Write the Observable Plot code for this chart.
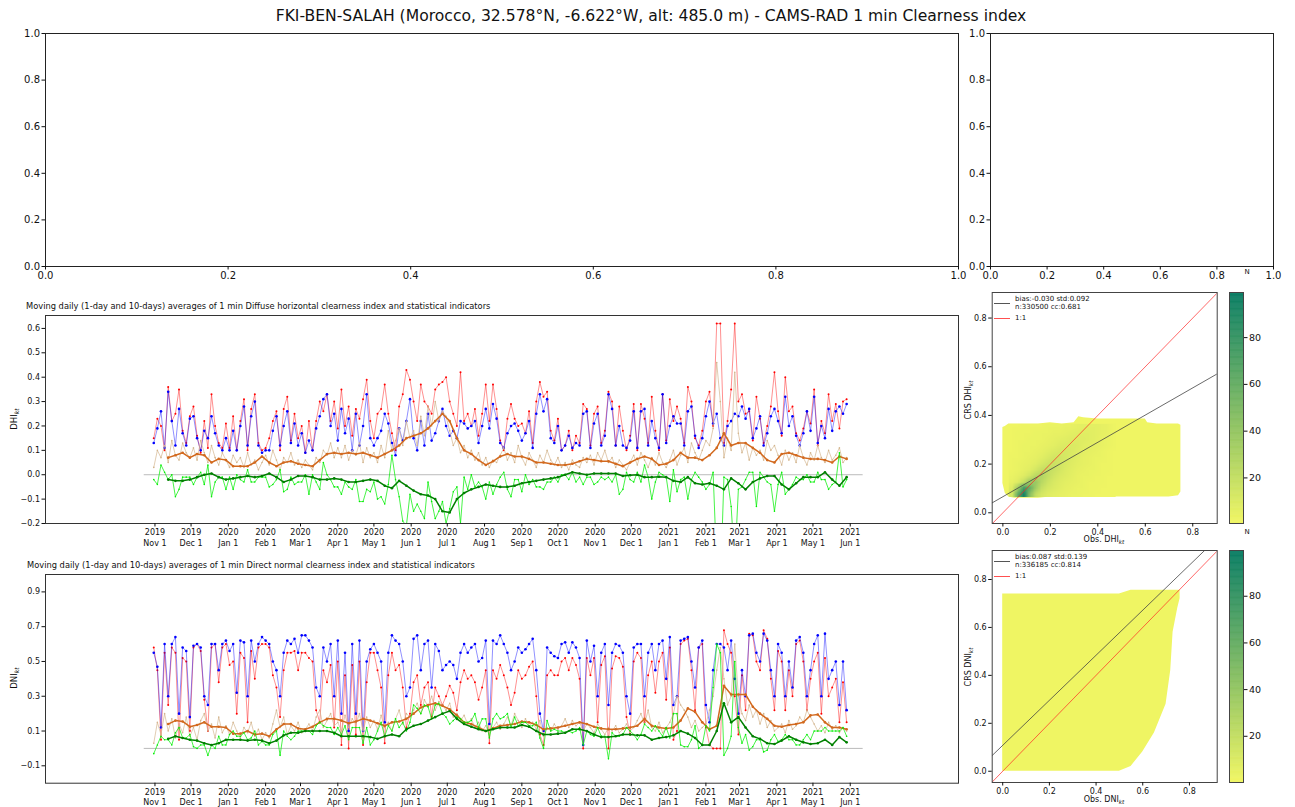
<!DOCTYPE html>
<html>
<head>
<meta charset="utf-8">
<script src="https://cdn.jsdelivr.net/npm/d3@7"></script>
<script src="https://cdn.jsdelivr.net/npm/@observablehq/plot@0.6"></script>
<style>
body{margin:0;background:#fff;}
#root{position:relative;width:1295px;height:807px;overflow:hidden;font-family:"DejaVu Sans",sans-serif;color:#111;background:#fff;}
.abs{position:absolute;white-space:nowrap;line-height:1;}
.rot{transform:translate(-50%,-50%) rotate(-90deg);}
.ctr{transform:translate(-50%,-50%);}
.lft{transform:translate(0,-50%);}
sub{font-style:italic;font-size:72%;vertical-align:-0.3em;line-height:0;}
.sw{position:absolute;height:0;border-top:1px solid;}
</style>
</head>
<body>
<div id="root"></div>
<script>
// ---------------- DATA ----------------
const mainTitle = "FKI-BEN-SALAH (Morocco, 32.578°N, -6.622°W, alt: 485.0 m) - CAMS-RAD 1 min Clearness index";
const dhiTitle = "Moving daily (1-day and 10-days) averages of 1 min Diffuse horizontal clearness index and statistical indicators";
const dniTitle = "Moving daily (1-day and 10-days) averages of 1 min Direct normal clearness index and statistical indicators";

const dailyStart = "2019-10-31", dailyStep = 3;     // 1-day values, read every 3rd day
const smoothStart = "2019-11-12", smoothStep = 6;   // 10-day values, read every 6th day
const monthTicks = ["2019-11-01","2019-12-01","2020-01-01","2020-02-01","2020-03-01","2020-04-01","2020-05-01","2020-06-01","2020-07-01","2020-08-01","2020-09-01","2020-10-01","2020-11-01","2020-12-01","2021-01-01","2021-02-01","2021-03-01","2021-04-01","2021-05-01","2021-06-01"];
const zeroSpan = ["2019-10-23","2021-06-11"];
const timeDomain = ["2019-08-02","2021-08-30"];
const topTicks = [0, 0.2, 0.4, 0.6, 0.8, 1.0];
const dhiYTicks = [-0.2,-0.1,0,0.1,0.2,0.3,0.4,0.5,0.6];
const dniYTicks = [-0.1,0.1,0.3,0.5,0.7,0.9];
const scatterTicks = [0, 0.2, 0.4, 0.6, 0.8];
const cbarTicks = [20, 40, 60, 80];

// DHI 1-day: observed, CAMS model, std, bias
const dhiObs = [0.15,0.23,0.20,0.10,0.36,0.22,0.25,0.35,0.18,0.13,0.24,
0.28,0.16,0.09,0.22,0.11,0.33,0.20,0.13,0.11,0.21,
0.11,0.24,0.10,0.22,0.31,0.10,0.27,0.33,0.13,0.10,
0.11,0.15,0.22,0.26,0.10,0.27,0.32,0.14,0.25,0.15,
0.20,0.09,0.22,0.10,0.22,0.30,0.26,0.33,0.22,0.30,
0.19,0.35,0.20,0.28,0.16,0.27,0.23,0.31,0.39,0.22,
0.15,0.25,0.27,0.37,0.25,0.17,0.10,0.28,0.33,0.43,0.39,
0.30,0.22,0.37,0.30,0.28,0.25,0.35,0.37,0.38,0.40,
0.30,0.25,0.20,0.42,0.22,0.25,0.20,0.27,0.16,0.25,
0.37,0.22,0.37,0.27,0.14,0.10,0.23,0.29,0.23,0.20,
0.21,0.17,0.26,0.13,0.30,0.38,0.32,0.34,0.18,0.14,
0.23,0.10,0.12,0.18,0.10,0.16,0.13,0.29,0.27,0.12,
0.25,0.28,0.13,0.18,0.34,0.30,0.12,0.28,0.18,0.10,
0.16,0.29,0.10,0.29,0.23,0.13,
0.32,0.18,0.10,0.33,0.14,
0.31,0.22,0.28,0.23,0.13,0.36,0.30,0.15,0.12,0.18,
0.30,0.34,0.20,0.62,0.62,0.13,0.22,0.35,0.62,0.30,
0.33,0.25,0.26,0.14,0.32,0.23,0.13,0.20,0.28,0.42,
0.26,0.16,0.40,0.26,0.28,0.17,0.14,0.19,0.26,0.21,
0.35,0.12,0.22,0.17,0.33,0.22,0.29,0.19,0.30,0.31];
const dhiMod = [0.13,0.19,0.26,0.11,0.34,0.22,0.12,0.27,0.17,0.12,0.23,
0.24,0.15,0.10,0.18,0.15,0.24,0.17,0.12,0.10,0.15,
0.10,0.18,0.10,0.20,0.28,0.12,0.24,0.30,0.12,0.09,
0.10,0.10,0.18,0.24,0.12,0.20,0.26,0.13,0.21,0.12,
0.17,0.09,0.14,0.10,0.19,0.24,0.31,0.33,0.20,0.25,
0.14,0.27,0.17,0.23,0.10,0.25,0.12,0.20,0.33,0.15,
0.12,0.15,0.18,0.25,0.21,0.13,0.08,0.19,0.14,0.22,0.31,
0.15,0.10,0.22,0.12,0.25,0.14,0.17,0.22,0.27,0.20,
0.16,0.18,0.15,0.22,0.21,0.19,0.20,0.22,0.13,0.20,
0.27,0.19,0.29,0.23,0.13,0.11,0.17,0.20,0.21,0.18,
0.14,0.17,0.22,0.11,0.25,0.33,0.26,0.31,0.15,0.13,
0.20,0.10,0.12,0.16,0.11,0.13,0.12,0.25,0.26,0.11,
0.21,0.25,0.12,0.16,0.33,0.27,0.12,0.20,0.12,0.11,
0.14,0.26,0.11,0.26,0.27,0.12,
0.22,0.15,0.11,0.33,0.13,
0.20,0.24,0.21,0.21,0.12,0.26,0.28,0.16,0.11,0.15,
0.24,0.30,0.21,0.25,0.15,0.12,0.20,0.22,0.25,0.24,
0.28,0.23,0.27,0.15,0.19,0.24,0.12,0.17,0.24,0.27,
0.22,0.17,0.32,0.20,0.24,0.16,0.12,0.17,0.26,0.18,
0.32,0.13,0.20,0.15,0.27,0.18,0.26,0.28,0.25,0.29];
const dhiStd1 = [0.03,0.10,0.07,0.12,0.05,0.14,0.08,0.06,0.13,0.09,0.07,
0.11,0.06,0.14,0.09,0.05,0.12,0.07,0.04,0.09,0.06,
0.03,0.08,0.05,0.07,0.03,0.09,0.04,0.06,0.02,0.05,
0.08,0.04,0.10,0.06,0.02,0.07,0.05,0.09,0.04,0.06,
0.03,0.06,0.04,0.02,0.07,0.05,0.10,0.08,0.13,0.07,
0.11,0.07,0.12,0.06,0.10,0.08,0.13,0.05,0.11,0.07,
0.09,0.05,0.12,0.07,0.18,0.10,0.14,0.19,0.12,0.22,0.15,
0.18,0.12,0.24,0.16,0.28,0.20,0.30,0.22,0.26,0.24,
0.18,0.12,0.15,0.09,0.12,0.07,0.10,0.06,0.09,0.04,
0.07,0.03,0.06,0.05,0.08,0.11,0.06,0.09,0.05,0.12,
0.07,0.04,0.09,0.06,0.03,0.08,0.05,0.10,0.06,0.04,
0.07,0.03,0.05,0.02,0.06,0.04,0.03,0.07,0.05,0.08,
0.04,0.09,0.06,0.10,0.05,0.07,0.03,0.06,0.04,0.02,
0.05,0.08,0.04,0.09,0.06,0.03,
0.07,0.04,0.09,0.05,0.03,
0.06,0.10,0.04,0.08,0.11,0.05,0.13,0.09,0.06,0.10,
0.14,0.12,0.19,0.46,0.30,0.07,0.15,0.10,0.42,0.17,
0.09,0.13,0.06,0.11,0.08,0.10,0.06,0.14,0.10,0.12,
0.08,0.04,0.10,0.06,0.09,0.05,0.12,0.07,0.04,0.09,
0.06,0.12,0.07,0.05,0.10,0.06,0.08,0.11,0.05,0.07];
const dhiBias1 = [-0.02,-0.04,0.04,0.01,-0.02,0.00,-0.09,-0.06,-0.01,-0.01,-0.01,
-0.04,-0.01,0.01,-0.04,0.04,-0.09,-0.03,-0.01,-0.01,-0.06,
-0.01,-0.06,0.00,-0.02,-0.03,0.02,-0.03,-0.03,-0.01,-0.01,
-0.01,-0.05,-0.04,-0.02,0.02,-0.07,-0.06,-0.01,-0.04,-0.03,
-0.03,0.00,-0.08,0.00,-0.03,-0.06,0.05,0.00,-0.02,-0.05,
-0.05,-0.08,-0.03,-0.05,-0.06,-0.02,-0.11,-0.11,-0.06,-0.07,
-0.03,-0.10,-0.09,-0.12,-0.04,0.08,-0.02,-0.09,-0.19,-0.21,-0.08,
-0.15,-0.12,-0.15,-0.18,-0.03,-0.11,-0.18,-0.15,-0.11,-0.20,
-0.14,-0.07,-0.05,-0.20,-0.01,-0.06,0.00,-0.05,-0.03,-0.05,
-0.10,-0.03,-0.08,-0.04,-0.01,0.01,-0.06,-0.09,-0.02,-0.02,
-0.07,0.00,-0.04,-0.02,-0.05,-0.05,-0.06,-0.03,-0.03,-0.01,
-0.03,0.00,0.00,-0.02,0.01,-0.03,-0.01,-0.04,-0.01,-0.01,
-0.04,-0.03,-0.01,-0.02,-0.01,-0.03,0.00,-0.08,-0.06,0.01,
-0.02,-0.03,0.01,-0.03,0.04,-0.01,
-0.10,-0.03,0.01,0.00,-0.01,
-0.11,0.02,-0.07,-0.02,-0.01,-0.10,-0.02,0.01,-0.01,-0.03,
-0.06,-0.04,0.01,-0.37,-0.47,-0.01,-0.02,-0.13,-0.37,-0.06,
-0.05,-0.02,0.01,0.01,-0.13,0.01,-0.01,-0.03,-0.04,-0.15,
-0.04,0.01,-0.08,-0.06,-0.04,-0.01,-0.02,-0.02,0.00,-0.03,
-0.03,0.01,-0.02,-0.02,-0.06,-0.04,-0.03,0.09,-0.05,-0.02];
// DHI 10-day: std, bias
const dhiStd10 = [0.07,0.08,0.09,0.07,0.085,0.08,0.05,0.065,0.06,0.035,
0.035,0.035,0.05,0.075,0.05,0.035,0.05,0.055,0.045,0.04,
0.035,0.06,0.085,0.09,0.085,0.09,0.085,0.09,0.08,0.07,
0.085,0.1,0.12,0.15,0.16,0.17,0.19,0.22,0.25,0.22,
0.15,0.1,0.085,0.06,0.04,0.055,0.075,0.085,0.075,0.075,
0.065,0.05,0.05,0.045,0.04,0.04,0.045,0.055,0.065,0.06,
0.055,0.055,0.045,0.035,0.05,0.065,0.075,0.065,0.04,0.045,
0.06,0.09,0.07,0.07,0.06,0.08,0.11,0.17,0.12,0.13,
0.13,0.11,0.09,0.06,0.05,0.085,0.09,0.08,0.07,0.065,
0.065,0.06,0.05,0.075,0.065];
const dhiBias10 = [-0.02,-0.025,-0.025,-0.02,-0.01,0.0,0.005,-0.01,-0.02,-0.015,
-0.01,-0.005,-0.01,-0.005,0.005,-0.01,-0.03,-0.02,-0.005,-0.005,
-0.01,-0.02,-0.02,-0.015,-0.02,-0.03,-0.03,-0.025,-0.02,-0.025,
-0.045,-0.055,-0.025,-0.045,-0.065,-0.08,-0.085,-0.1,-0.15,-0.155,
-0.1,-0.075,-0.06,-0.05,-0.04,-0.045,-0.05,-0.05,-0.045,-0.035,
-0.03,-0.025,-0.02,-0.015,-0.01,0.0,0.01,0.005,0.0,0.005,
0.005,0.005,0.005,-0.005,-0.002,0.0,-0.01,-0.01,-0.008,-0.01,
-0.025,-0.03,-0.01,-0.035,-0.04,-0.035,-0.045,-0.06,-0.015,-0.035,
-0.06,-0.03,-0.015,-0.005,-0.005,-0.04,-0.06,-0.035,-0.01,-0.01,
-0.01,0.01,-0.02,-0.045,-0.01];

// DNI 1-day: observed, CAMS model, std, bias
const dniObs = [0.58,0.45,0.05,0.55,0.25,0.58,0.55,0.05,0.52,0.50,0.10,
0.58,0.60,0.56,0.28,0.10,0.58,0.60,0.38,0.58,0.60,
0.48,0.50,0.20,0.55,0.52,0.15,0.56,0.40,0.58,0.60,
0.60,0.58,0.42,0.35,0.18,0.45,0.55,0.55,0.56,0.45,
0.55,0.55,0.52,0.50,0.22,0.15,0.45,0.38,0.48,0.12,
0.50,0.02,0.42,0.00,0.48,0.08,0.50,0.02,0.38,0.55,
0.55,0.45,0.35,0.03,0.42,0.55,0.45,0.48,0.35,0.12,
0.20,0.38,0.42,0.25,0.35,0.38,0.18,0.35,0.30,0.25,
0.30,0.36,0.32,0.22,0.38,0.45,0.40,0.42,0.38,0.28,
0.35,0.45,0.03,0.45,0.40,0.48,0.42,0.35,0.25,0.32,
0.45,0.40,0.42,0.47,0.50,0.30,0.08,0.02,0.42,0.45,
0.42,0.42,0.50,0.52,0.45,0.52,0.48,0.40,0.00,0.52,
0.42,0.52,0.15,0.48,0.53,0.00,0.46,0.53,0.52,0.47,
0.18,0.08,0.50,0.55,0.52,0.15,0.42,
0.50,0.32,0.50,0.55,0.28,
0.58,0.05,0.10,0.60,0.62,0.63,0.45,0.22,0.58,0.60,
0.12,0.02,0.00,0.00,0.00,0.68,0.60,0.55,0.30,0.08,
0.42,0.22,0.66,0.65,0.50,0.45,0.68,0.63,0.40,0.22,
0.56,0.50,0.22,0.45,0.30,0.60,0.62,0.50,0.22,0.40,
0.50,0.55,0.20,0.52,0.30,0.35,0.40,0.15,0.38,0.15];
const dniMod = [0.55,0.47,0.12,0.60,0.30,0.60,0.64,0.20,0.58,0.56,0.18,
0.59,0.60,0.58,0.30,0.25,0.60,0.60,0.45,0.60,0.62,
0.56,0.60,0.32,0.62,0.61,0.30,0.62,0.50,0.60,0.64,
0.62,0.60,0.50,0.45,0.30,0.55,0.62,0.60,0.63,0.55,
0.65,0.65,0.62,0.58,0.35,0.30,0.58,0.50,0.60,0.30,
0.62,0.20,0.55,0.10,0.60,0.20,0.62,0.10,0.50,0.57,
0.60,0.55,0.50,0.15,0.55,0.65,0.62,0.60,0.50,0.30,
0.35,0.63,0.65,0.45,0.60,0.62,0.35,0.60,0.56,0.45,
0.48,0.50,0.48,0.40,0.55,0.60,0.55,0.58,0.60,0.50,
0.52,0.62,0.14,0.62,0.60,0.65,0.60,0.55,0.45,0.50,
0.58,0.55,0.57,0.60,0.63,0.45,0.20,0.10,0.58,0.55,
0.53,0.52,0.60,0.61,0.55,0.61,0.58,0.52,0.02,0.62,
0.50,0.59,0.30,0.55,0.60,0.25,0.55,0.60,0.59,0.55,
0.30,0.20,0.58,0.60,0.60,0.30,0.55,
0.60,0.45,0.60,0.62,0.40,
0.64,0.25,0.30,0.62,0.63,0.64,0.50,0.35,0.58,0.62,
0.25,0.15,0.45,0.60,0.60,0.58,0.45,0.62,0.40,0.20,
0.45,0.30,0.65,0.66,0.55,0.50,0.66,0.62,0.45,0.30,
0.60,0.55,0.30,0.50,0.35,0.62,0.64,0.55,0.30,0.45,
0.60,0.65,0.30,0.66,0.40,0.45,0.50,0.25,0.50,0.22];
const dniStd1 = [0.03,0.15,0.08,0.20,0.10,0.17,0.06,0.14,0.09,0.18,0.07,
0.12,0.05,0.16,0.20,0.10,0.14,0.06,0.18,0.09,0.13,
0.08,0.15,0.10,0.06,0.12,0.09,0.15,0.07,0.11,0.05,
0.09,0.06,0.14,0.22,0.12,0.18,0.08,0.13,0.10,0.15,
0.09,0.11,0.14,0.10,0.18,0.22,0.12,0.16,0.20,0.13,
0.15,0.10,0.19,0.12,0.17,0.14,0.20,0.10,0.18,0.12,
0.16,0.11,0.19,0.12,0.15,0.10,0.17,0.22,0.14,0.20,
0.18,0.22,0.26,0.20,0.28,0.24,0.30,0.22,0.27,0.25,
0.22,0.26,0.18,0.20,0.16,0.19,0.14,0.17,0.12,0.15,
0.10,0.13,0.08,0.12,0.15,0.11,0.14,0.18,0.13,0.20,
0.16,0.12,0.17,0.13,0.15,0.11,0.16,0.07,0.12,0.10,
0.14,0.11,0.13,0.17,0.12,0.16,0.13,0.15,0.10,0.14,
0.12,0.09,0.14,0.11,0.08,0.12,0.10,0.13,0.09,0.11,
0.14,0.10,0.12,0.16,0.20,0.14,0.22,
0.12,0.10,0.15,0.09,0.12,
0.15,0.20,0.30,0.25,0.22,0.18,0.12,0.16,0.10,0.12,
0.14,0.22,0.30,0.45,0.58,0.40,0.25,0.30,0.60,0.30,
0.20,0.16,0.25,0.18,0.22,0.14,0.20,0.12,0.16,0.10,
0.12,0.14,0.09,0.16,0.11,0.13,0.18,0.15,0.22,0.18,
0.14,0.10,0.13,0.09,0.15,0.11,0.13,0.09,0.12,0.10];
const dniBias1 = [-0.03,0.02,0.07,0.05,0.05,0.02,0.09,0.12,0.06,0.06,0.08,
0.01,0.00,0.02,0.02,-0.04,0.02,0.00,0.07,0.02,0.02,
0.08,0.10,0.07,0.07,0.09,0.05,0.06,0.10,0.02,0.04,
0.02,0.02,0.08,0.10,-0.04,0.10,0.07,0.05,0.07,0.10,
0.10,0.10,0.10,0.08,0.13,0.15,0.13,0.12,0.12,0.08,
0.12,0.08,0.13,0.05,0.12,0.12,0.12,0.03,0.12,0.02,
0.05,0.10,0.15,0.07,0.13,0.10,0.17,0.12,0.15,0.10,
0.15,0.25,0.23,0.20,0.25,0.24,0.17,0.25,0.26,0.20,
0.18,0.14,0.16,0.18,0.17,0.15,0.15,0.16,0.20,0.12,
0.17,0.17,0.06,0.17,0.20,0.17,0.18,0.20,0.12,0.18,
0.13,0.15,0.15,0.13,0.13,0.15,0.06,0.00,0.16,0.10,
0.11,0.10,0.10,0.09,0.10,0.09,0.10,0.12,0.02,0.10,
0.08,0.07,0.12,0.07,0.07,-0.06,0.09,0.07,0.07,0.08,
0.12,0.10,0.08,0.05,0.08,0.14,0.12,
0.10,0.13,0.10,0.07,0.12,
0.06,0.20,0.20,0.02,0.01,0.01,0.05,0.13,0.00,0.02,
0.13,0.10,0.35,0.60,0.55,-0.04,0.00,0.07,0.50,0.12,
0.03,0.08,-0.01,0.01,0.05,0.05,-0.02,-0.01,0.05,0.08,
0.04,0.05,0.08,0.05,0.05,0.02,0.02,0.05,0.08,0.05,
0.10,0.10,0.10,0.12,0.10,0.10,0.10,0.10,0.12,0.07];
// DNI 10-day: std, bias
const dniStd10 = [0.14,0.16,0.155,0.125,0.135,0.15,0.125,0.125,0.12,0.085,
0.085,0.1,0.08,0.085,0.07,0.11,0.14,0.14,0.115,0.11,
0.125,0.15,0.17,0.17,0.16,0.145,0.155,0.17,0.16,0.145,
0.13,0.15,0.155,0.17,0.2,0.235,0.25,0.26,0.245,0.225,
0.19,0.15,0.14,0.12,0.1,0.115,0.13,0.135,0.14,0.155,
0.15,0.135,0.11,0.115,0.12,0.13,0.14,0.15,0.14,0.125,
0.115,0.11,0.11,0.115,0.12,0.13,0.17,0.13,0.12,0.115,
0.12,0.16,0.23,0.21,0.15,0.11,0.13,0.36,0.31,0.31,
0.31,0.24,0.2,0.17,0.13,0.125,0.135,0.14,0.15,0.19,
0.195,0.15,0.12,0.12,0.11];
const dniBias10 = [0.055,0.07,0.06,0.05,0.045,0.03,0.02,0.03,0.05,0.05,
0.05,0.045,0.05,0.045,0.03,0.045,0.075,0.09,0.09,0.1,
0.1,0.1,0.1,0.09,0.07,0.07,0.07,0.07,0.065,0.055,
0.07,0.08,0.07,0.11,0.13,0.14,0.16,0.18,0.2,0.215,
0.17,0.14,0.125,0.11,0.1,0.11,0.12,0.12,0.12,0.135,
0.125,0.1,0.08,0.08,0.085,0.09,0.11,0.11,0.1,0.08,
0.065,0.065,0.07,0.08,0.08,0.075,0.075,0.05,0.06,0.065,
0.075,0.1,0.085,0.06,0.02,0.02,0.1,0.26,0.15,0.18,
0.12,0.07,0.055,0.03,0.025,0.045,0.07,0.05,0.035,0.025,
0.03,0.05,0.02,0.065,0.035];

// Scatter (hexbin): occupied-region envelopes
const dhiEnvX    = [0.000,0.010,0.025,0.050,0.100,0.150,0.200,0.250,0.300,0.320,0.340,0.400,0.500,0.600,0.610,0.650,0.700,0.740,0.750];
const dhiEnvLow  = [0.120,0.080,0.065,0.060,0.060,0.060,0.065,0.065,0.065,0.065,0.065,0.065,0.065,0.065,0.065,0.065,0.065,0.070,0.085];
const dhiEnvHigh = [0.350,0.355,0.365,0.365,0.365,0.365,0.370,0.365,0.370,0.395,0.390,0.385,0.385,0.385,0.370,0.365,0.365,0.365,0.360];
const dniEnvX    = [0.00,0.50,0.55,0.60,0.65,0.70,0.72,0.73,0.75,0.76];
const dniEnvLow  = [0.00,0.00,0.02,0.08,0.16,0.28,0.42,0.58,0.68,0.72];
const dniEnvHigh = [0.74,0.74,0.755,0.755,0.755,0.755,0.755,0.755,0.755,0.755];
// DHI dense-zone counts: 18 columns (x 0.025–0.475) × 12 rows (y 0.365 down to 0.065)
const dhiDenseCols = 18, dhiDenseBox = [0.025, 0.475, 0.365, 0.065];
const dhiDense = [
1,1,2,2,2,2,3,3,3,4,4,5,6,6,6,5,4,2,
1,2,2,2,3,3,3,4,4,5,6,7,7,7,6,5,4,2,
1,2,2,3,3,3,4,5,6,7,8,8,8,7,6,4,3,2,
1,2,3,3,3,4,5,6,8,9,10,9,7,6,5,4,3,2,
1,2,3,3,4,5,7,9,11,12,10,8,6,5,4,3,2,1,
2,2,3,4,5,7,10,13,14,12,9,7,5,4,3,3,2,1,
2,3,4,5,7,11,15,17,14,11,8,6,5,4,3,2,2,1,
2,3,5,7,12,18,21,17,13,9,7,5,4,3,3,2,2,1,
3,5,8,14,24,27,20,14,10,8,6,4,3,3,2,2,1,1,
4,8,18,36,38,24,16,11,8,6,5,4,3,2,2,2,1,1,
8,35,75,60,34,18,12,9,7,5,4,3,3,2,2,1,1,1,
12,60,95,45,20,12,8,6,5,4,3,3,2,2,1,1,1,1];
const dhiFit = {slope: 0.559, intercept: 0.066};
const dniFit = {slope: 0.94, intercept: 0.108};
const dhiStats = ["bias:-0.030 std:0.092", "n:330500 cc:0.681"];
const dniStats = ["bias:0.087 std:0.139", "n:336185 cc:0.814"];
const cmapLow = "#eff563", cmapHigh = "#0a7d64";

// ---------------- HELPERS ----------------
const root = document.getElementById("root");
const parse = d3.utcParse("%Y-%m-%d");
const fmt1 = d3.format(".1f");
function dateSeq(start, step, n) { const s = parse(start); return d3.range(n).map(i => d3.utcDay.offset(s, i * step)); }
function place(svg, left, top) { svg.style.position = "absolute"; svg.style.left = left + "px"; svg.style.top = top + "px"; root.appendChild(svg); }
function html(tag, cls, css, inner) { const e = document.createElement(tag); e.className = cls; e.style.cssText = css; e.innerHTML = inner; root.appendChild(e); return e; }
const baseStyle = (fs) => ({background: "transparent", overflow: "visible", fontFamily: "DejaVu Sans", fontSize: fs + "px", color: "#111"});
const colorOpts = {type: "linear", domain: [1, 99], range: [cmapLow, cmapHigh], interpolate: "rgb", clamp: true};

// ---------------- TITLE ----------------
html("div", "abs ctr", "left:651px;top:17px;font-size:15.6px;", mainTitle);

// ---------------- TOP EMPTY AXES ----------------
function emptyAxes(w, h, ml, mr, mt, mb) {
  return Plot.plot({
    width: w, height: h, marginLeft: ml, marginRight: mr, marginTop: mt, marginBottom: mb,
    style: baseStyle(10),
    x: {domain: [0, 1]}, y: {domain: [0, 1]},
    marks: [
      Plot.frame({stroke: "#222"}),
      Plot.axisX({ticks: topTicks, tickFormat: fmt1, tickSize: 3.5, tickPadding: 2, label: null}),
      Plot.axisY({ticks: topTicks, tickFormat: fmt1, tickSize: 3.5, tickPadding: 2, label: null})
    ]
  });
}
place(emptyAxes(980, 290, 45, 22, 33, 24), 0, 0);
place(emptyAxes(330, 290, 30, 17, 33, 24), 960, 0);

// ---------------- TIME SERIES ----------------
function tsPlot(o) {
  const dd = dateSeq(dailyStart, dailyStep, o.obs.length);
  const daily = dd.map((d, i) => ({date: d, obs: o.obs[i], mod: o.mod[i], std: o.std1[i], bias: o.bias1[i]}));
  const sd = dateSeq(smoothStart, smoothStep, o.std10.length);
  const smooth = sd.map((d, i) => ({date: d, std: o.std10[i], bias: o.bias10[i]}));
  const zero = zeroSpan.map(s => ({date: parse(s), v: 0}));
  const L = (data, y, stroke, sw, op) => Plot.line(data, {x: "date", y, stroke, strokeWidth: sw, strokeOpacity: op, clip: true});
  const D = (data, y, fill, r) => Plot.dot(data, {x: "date", y, fill, r, clip: true});
  return Plot.plot({
    width: 1000, height: o.height, marginLeft: 45, marginRight: 42, marginTop: o.mt, marginBottom: o.mb,
    style: baseStyle(8),
    x: {type: "utc", domain: timeDomain.map(parse)},
    y: {domain: o.yDomain},
    marks: [
      L(zero, "v", "#aaa", 0.8, 1),
      L(daily, "obs", "#ff0000", 0.8, 0.55), D(daily, "obs", "#ff0000", 1),
      L(daily, "mod", "#0000ff", 0.8, 0.55), D(daily, "mod", "#0000ff", 1.3),
      L(daily, "std", "#d2b48c", 0.8, 0.85), D(daily, "std", "#d2b48c", 0.8),
      L(smooth, "std", "#d2691e", 1.5, 1), D(smooth, "std", "#d2691e", 1.3),
      L(daily, "bias", "#00ee00", 0.8, 0.9), D(daily, "bias", "#00ee00", 0.8),
      L(smooth, "bias", "#008000", 1.5, 1), D(smooth, "bias", "#008000", 1.3),
      Plot.frame({stroke: "#333"}),
      Plot.axisX({ticks: monthTicks.map(parse), tickFormat: d3.utcFormat("%Y\n%b %-d"), tickSize: 3.5, tickPadding: 1, lineHeight: 1.3, label: null}),
      Plot.axisY({ticks: o.yTicks, tickFormat: fmt1, tickSize: 3.5, tickPadding: 2, label: null})
    ]
  });
}
place(tsPlot({obs: dhiObs, mod: dhiMod, std1: dhiStd1, bias1: dhiBias1, std10: dhiStd10, bias10: dhiBias10,
  height: 260, mt: 15, mb: 37, yDomain: [-0.2, 0.653], yTicks: dhiYTicks}), 0, 300);
place(tsPlot({obs: dniObs, mod: dniMod, std1: dniStd1, bias1: dniBias1, std10: dniStd10, bias10: dniBias10,
  height: 252, mt: 19, mb: 24.3, yDomain: [-0.2, 1.0], yTicks: dniYTicks}), 0, 555);

html("div", "abs lft", "left:26px;top:306px;font-size:8.3px;", dhiTitle);
html("div", "abs lft", "left:27px;top:565px;font-size:8.3px;", dniTitle);
html("div", "abs rot", "left:14px;top:419px;font-size:8.5px;", "DHI<sub>kt</sub>");
html("div", "abs rot", "left:14px;top:678px;font-size:8.5px;", "DNI<sub>kt</sub>");

// ---------------- SCATTERS ----------------
function denseMark(o) {
  if (!o.dense) return null;
  const [x1, x2, y1, y2] = o.denseBox;
  const cols = o.denseCols, rows = o.dense.length / cols;
  if (typeof Plot.raster === "function") {
    return Plot.raster(o.dense, {width: cols, height: rows, x1, x2, y1, y2, fill: d => d, imageRendering: "auto"});
  }
  const dx = (x2 - x1) / cols, dy = (y1 - y2) / rows;
  const cells = o.dense.map((n, i) => ({n, c: i % cols, r: Math.floor(i / cols)}));
  return Plot.rect(cells, {x1: d => x1 + d.c * dx, x2: d => x1 + (d.c + 1) * dx, y1: d => y1 - (d.r + 1) * dy, y2: d => y1 - d.r * dy, fill: "n"});
}
function scatterPlot(o) {
  const env = o.envX.map((x, i) => ({x, lo: o.envLow[i], hi: o.envHigh[i]}));
  const fitPts = o.xDomain.map(x => ({x, y: o.fit.intercept + o.fit.slope * x}));
  const onePts = o.xDomain.map(x => ({x, y: x}));
  return Plot.plot({
    width: 270, height: o.height, marginLeft: 31.7, marginRight: 13.3, marginTop: o.mt, marginBottom: o.mb,
    style: baseStyle(8),
    x: {domain: o.xDomain}, y: {domain: o.yDomain},
    color: colorOpts,
    marks: [
      Plot.areaY(env, {x: "x", y1: "lo", y2: "hi", fill: cmapLow}),
      denseMark(o),
      Plot.line(fitPts, {x: "x", y: "y", stroke: "#444", strokeWidth: 0.8, clip: true}),
      Plot.line(onePts, {x: "x", y: "y", stroke: "#ff2020", strokeWidth: 0.8, strokeOpacity: 0.85, clip: true}),
      Plot.frame({stroke: "#444"}),
      Plot.axisX({ticks: scatterTicks, tickFormat: fmt1, tickSize: 3.5, tickPadding: 2, label: null}),
      Plot.axisY({ticks: scatterTicks, tickFormat: fmt1, tickSize: 3.5, tickPadding: 2, label: null})
    ]
  });
}
place(scatterPlot({envX: dhiEnvX, envLow: dhiEnvLow, envHigh: dhiEnvHigh, dense: dhiDense, denseCols: dhiDenseCols, denseBox: dhiDenseBox, fit: dhiFit,
  xDomain: [-0.045, 0.903], yDomain: [-0.044, 0.905], height: 265, mt: 12, mb: 22}), 960, 280);
place(scatterPlot({envX: dniEnvX, envLow: dniEnvLow, envHigh: dniEnvHigh, fit: dniFit,
  xDomain: [-0.045, 0.919], yDomain: [-0.047, 0.921], height: 267, mt: 10, mb: 25}), 960, 540);

function colorbar(domain, height, mt, mb) {
  const levels = d3.range(0, 100, 0.5);
  return Plot.plot({
    width: 60, height, marginLeft: 4, marginRight: 42, marginTop: mt, marginBottom: mb,
    style: baseStyle(9.5),
    y: {domain},
    color: colorOpts,
    marks: [
      Plot.rect(levels, {y1: d => d, y2: d => d + 0.5, fill: d => d, stroke: d => d, strokeWidth: 0.6, clip: true}),
      Plot.frame({stroke: "#444"}),
      Plot.axisY({anchor: "right", ticks: cbarTicks, tickSize: 3.5, tickPadding: 2, label: null})
    ]
  });
}
place(colorbar([0.5, 99.3], 265, 12, 22), 1225, 280);
place(colorbar([0.2, 99.6], 267, 10, 25), 1225, 540);

// scatter labels
html("div", "abs rot", "left:969px;top:400px;font-size:8px;", "CRS DHI<sub>kt</sub>");
html("div", "abs ctr", "left:1104px;top:540px;font-size:8px;", "Obs. DHI<sub>kt</sub>");
html("div", "abs rot", "left:969px;top:667px;font-size:8px;", "CRS DNI<sub>kt</sub>");
html("div", "abs ctr", "left:1104px;top:800px;font-size:8px;", "Obs. DNI<sub>kt</sub>");
html("div", "abs ctr", "left:1247px;top:272px;font-size:7px;", "N");
html("div", "abs ctr", "left:1247px;top:532px;font-size:7px;", "N");

// legends
function legend(stats, top) {
  html("div", "sw", `left:994px;top:${top + 4.5}px;width:16px;border-color:#555;`, "");
  html("div", "abs lft", `left:1015px;top:${top}px;font-size:7px;`, stats[0]);
  html("div", "abs lft", `left:1015px;top:${top + 8.5}px;font-size:7px;`, stats[1]);
  html("div", "sw", `left:994px;top:${top + 19.5}px;width:16px;border-color:#ff5050;`, "");
  html("div", "abs lft", `left:1015px;top:${top + 19.5}px;font-size:7px;`, "1:1");
}
legend(dhiStats, 298.7);
legend(dniStats, 556.7);
</script>
</body>
</html>
